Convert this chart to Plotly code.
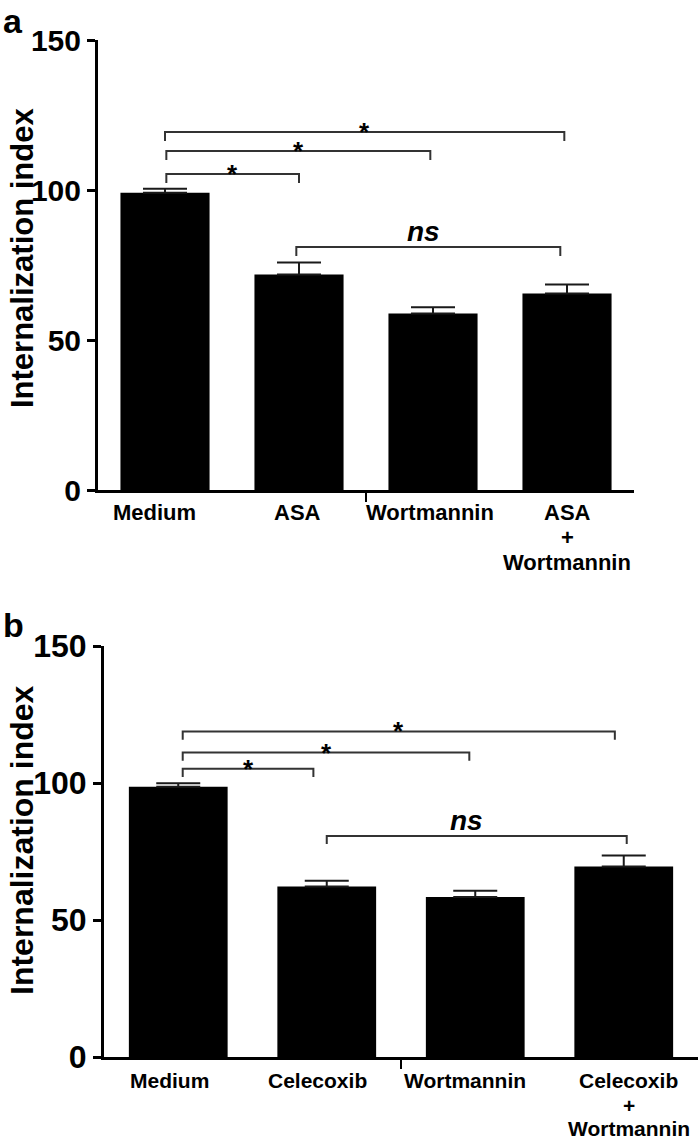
import plotly.graph_objects as go

# ---------------- data ----------------
positions = [0, 1, 2, 3]

labels_a = [["Medium"], ["ASA"], ["Wortmannin"], ["ASA", "+", "Wortmannin"]]
values_a = [99.1, 71.8, 58.8, 65.5]
errors_a = [1.3, 4.0, 2.1, 3.0]

labels_b = [["Medium"], ["Celecoxib"], ["Wortmannin"], ["Celecoxib", "+", "Wortmannin"]]
values_b = [98.6, 62.2, 58.4, 69.5]
errors_b = [1.3, 2.1, 2.3, 4.0]

y_ticks = [0, 50, 100, 150]
y_title = "Internalization index"

# comparisons: (from, to, label)
comparisons_a = [(0.01, 1.0, "*"), (0.01, 1.98, "*"), (0.0, 2.98, "*"), (0.98, 2.95, "ns")]
levels_a = [105.3, 113.0, 119.3, 81.0]
comparisons_b = [(0.03, 0.91, "*"), (0.03, 1.96, "*"), (0.03, 2.94, "*"), (1.0, 3.02, "ns")]
levels_b = [105.2, 111.1, 118.8, 80.7]

# ---------------- layout helpers ----------------
W, H = 700, 1141
FONT = "Liberation Sans, Arial, Helvetica, sans-serif"


def py(y):
    return 1 - y / H


fig = go.Figure()

panels = [
    dict(xa="x", ya="y", vals=values_a, errs=errors_a, labels=labels_a,
         comps=comparisons_a, levels=levels_a,
         xdom=[98 / W, 634 / W], ydom=[py(490), py(40)],
         tickfont=30, labfont=22, lab_y=[513, 537, 562],
         lab_dx=[-11, -2, -3, 0], ns_dx=-5,
         title_x=22, title_y=258, title_size=31,
         letter="a", letter_top=0),
    dict(xa="x2", ya="y2", vals=values_b, errs=errors_b, labels=labels_b,
         comps=comparisons_b, levels=levels_b,
         xdom=[104 / W, 698 / W], ydom=[py(1057), py(646)],
         tickfont=32, labfont=21, lab_y=[1080, 1105, 1128],
         lab_dx=[-9, -9, -10, 5], ns_dx=-10,
         title_x=22, title_y=840, title_size=32,
         letter="b", letter_top=604),
]

shapes = []
annotations = []
layout_axes = {}

for i, p in enumerate(panels):
    fig.add_trace(go.Bar(
        x=positions, y=p["vals"], width=0.665,
        marker=dict(color="black", line=dict(width=0)),
        error_y=dict(type="data", symmetric=False, array=p["errs"],
                     arrayminus=[0] * len(p["errs"]), color="#1a1a1a",
                     thickness=2, width=22),
        xaxis=p["xa"], yaxis=p["ya"], showlegend=False, hoverinfo="skip"))

    xkey = "xaxis" if p["xa"] == "x" else "xaxis2"
    ykey = "yaxis" if p["ya"] == "y" else "yaxis2"
    layout_axes[xkey] = dict(
        domain=p["xdom"], range=[-0.5, 3.5], anchor=p["ya"],
        showline=True, linecolor="black", linewidth=3,
        tickvals=[1.5], ticks="outside", ticklen=9, tickwidth=2,
        tickcolor="black", showticklabels=False, showgrid=False,
        zeroline=False, fixedrange=True, automargin=False)
    layout_axes[ykey] = dict(
        domain=p["ydom"], range=[0, 150], anchor=p["xa"],
        showline=True, linecolor="black", linewidth=3,
        tickvals=y_ticks, ticktext=[f"<b>{t}</b>" for t in y_ticks],
        ticks="outside", ticklen=8, tickwidth=3, tickcolor="black",
        tickfont=dict(family=FONT, size=p["tickfont"], color="black"),
        showgrid=False, zeroline=False, fixedrange=True, automargin=False)

    # significance brackets
    for (x0, x1, lab), lev in zip(p["comps"], p["levels"]):
        d = 3.0
        shapes.append(dict(
            type="path", xref=p["xa"], yref=p["ya"],
            path=f"M {x0},{lev - d} L {x0},{lev} L {x1},{lev} L {x1},{lev - d}",
            line=dict(color="#333333", width=2)))
        if lab == "*":
            annotations.append(dict(
                x=(x0 + x1) / 2, y=lev, xref=p["xa"], yref=p["ya"],
                text="<b>*</b>", showarrow=False, yanchor="middle",
                xanchor="center", yshift=0,
                font=dict(family=FONT, size=26, color="black")))
        else:
            annotations.append(dict(
                x=(x0 + x1) / 2, y=lev, xref=p["xa"], yref=p["ya"],
                text="<b><i>ns</i></b>", showarrow=False, yanchor="bottom",
                xanchor="center", yshift=-2, xshift=p["ns_dx"],
                font=dict(family=FONT, size=28, color="black")))

    # category labels
    for xpos, lines, dx in zip(positions, p["labels"], p["lab_dx"]):
        for k, line in enumerate(lines):
            annotations.append(dict(
                x=xpos, y=py(p["lab_y"][k]), xref=p["xa"], yref="paper",
                text=f"<b>{line}</b>", showarrow=False, xshift=dx,
                xanchor="center", yanchor="middle",
                font=dict(family=FONT, size=p["labfont"], color="black")))

    # y-axis title
    annotations.append(dict(
        x=p["title_x"] / W, y=py(p["title_y"]), xref="paper", yref="paper",
        text=f"<b>{y_title}</b>", textangle=-90, showarrow=False,
        xanchor="center", yanchor="middle",
        font=dict(family=FONT, size=p["title_size"], color="black")))

    # panel letter
    annotations.append(dict(
        x=1 / W, y=py(p["letter_top"]), xref="paper", yref="paper",
        text=f"<b>{p['letter']}</b>", showarrow=False,
        xanchor="left", yanchor="top",
        font=dict(family=FONT, size=34, color="black")))

fig.update_layout(
    template="none",
    width=W, height=H, autosize=False,
    margin=dict(l=0, r=0, t=0, b=0, pad=0),
    paper_bgcolor="white", plot_bgcolor="white",
    font=dict(family=FONT, color="black"),
    bargap=0.3, shapes=shapes, annotations=annotations,
    **layout_axes)

fig.write_html(
    "out.html",
    config={"displayModeBar": False, "staticPlot": True},
    post_script="document.body.style.margin='0';document.body.style.padding='0';",
)
